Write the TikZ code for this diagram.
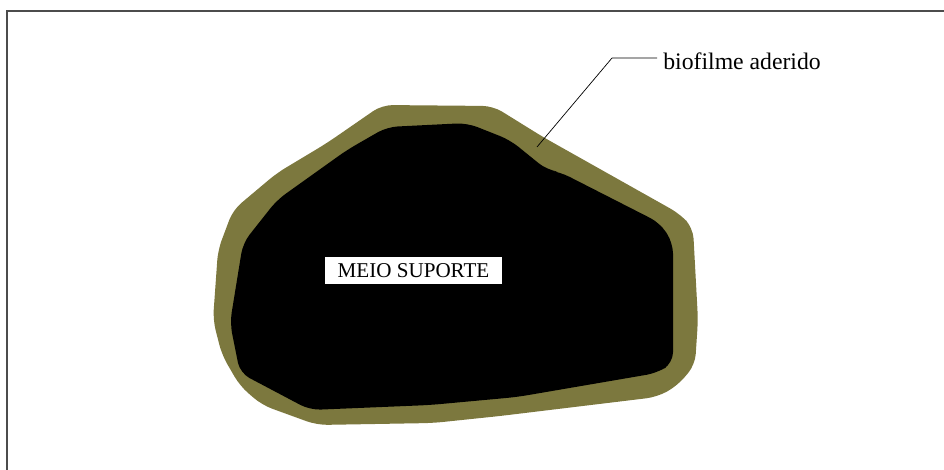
\documentclass[tikz,border=0pt]{standalone}
\usepackage{fontspec}
\setmainfont{Liberation Serif}
\usepackage{tikz}
\usetikzlibrary{positioning}
\definecolor{biofilm}{RGB}{124,120,62}
\tikzset{
	frameline/.style={line width=1.1pt,draw=black!70},
	filmfill/.style={fill=biofilm,rounded corners=6pt},
	corefill/.style={fill=black,rounded corners=6pt},
	leader/.style={thin,black},
	tag/.style={fill=white,inner sep=0pt,minimum width=3.54cm,minimum height=0.54cm,font=\fontsize{12}{14}\selectfont},
	note/.style={inner sep=0pt,anchor=west,font=\fontsize{13.5}{16}\selectfont}
}

\begin{document}
\begin{tikzpicture}[x=0.02cm,y=-0.02cm]
		\useasboundingbox (0,0) rectangle (944,470);
		
		% -------------------------------------------------
		% 1. Frame (top and left only)
		% -------------------------------------------------
		\draw[frameline] (7,470) -- (7,11) -- (944,11);
		
		% -------------------------------------------------
		% 2. Attached biofilm (outer layer)
		% -------------------------------------------------
		\path[filmfill]
		(382,105) -- (493,106) -- (543,137) -- (680,214) -- (693,228)
		-- (698,320) -- (695,365) -- (677,386) -- (657,397) -- (500,416)
		-- (433,423) -- (317,425) -- (262,405) -- (240,386) -- (222,355)
		-- (213,320) -- (218,250) -- (233,210) -- (277,173) -- (327,143) -- cycle;
		
		% -------------------------------------------------
		% 3. Support medium (core)
		% -------------------------------------------------
		\path[corefill]
		(347,150) -- (387,127) -- (467,123) -- (510,140) -- (547,170)
		-- (560,172) -- (660,223) -- (673,243) -- (673,363) -- (657,373)
		-- (517,397) -- (430,405) -- (310,410) -- (240,373) -- (230,323)
		-- (243,243) -- (277,200) -- cycle;
		
		\node[tag] (core) at (413.5,270.5) {MEIO SUPORTE};
		
		% -------------------------------------------------
		% 4. Leader line to label
		% -------------------------------------------------
		\coordinate (film) at (537,147);
		\coordinate (bend) at (612,58);
		\node[note] (filmlabel) at (663,61) {biofilme aderido};
		\draw[leader] (film) -- (bend) -- ([xshift=-6*0.02cm]filmlabel.west |- bend);
		
	\end{tikzpicture}
\end{document}
